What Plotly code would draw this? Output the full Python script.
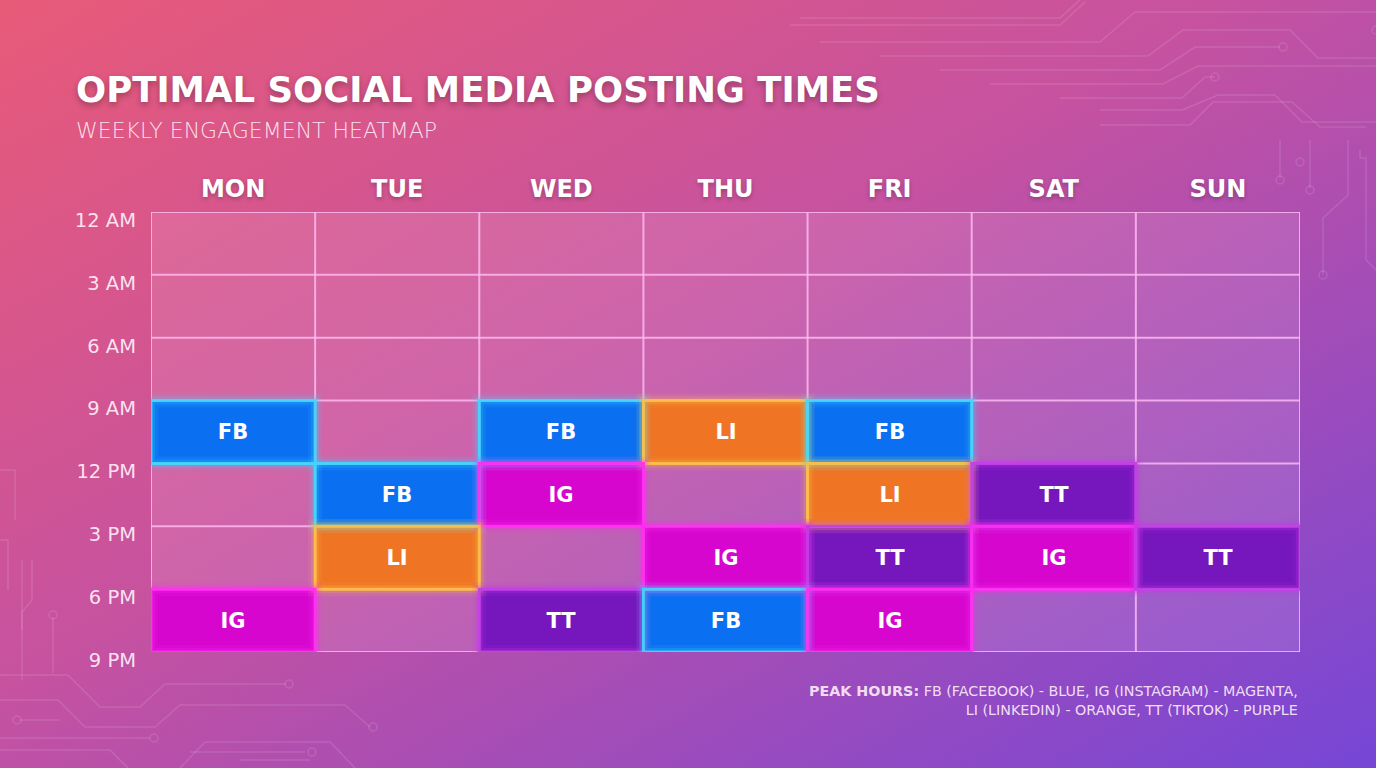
import base64
import plotly.graph_objects as go

# ---------------- data ----------------
days = ["MON", "TUE", "WED", "THU", "FRI", "SAT", "SUN"]
time_labels = ["12 AM", "3 AM", "6 AM", "9 AM", "12 PM", "3 PM", "6 PM", "9 PM"]
hour_edges = [0, 3, 6, 9, 12, 15, 18, 21]
# rows = 3-hour slots (12AM-3AM ... 6PM-9PM), columns = days
schedule = [
    ["", "", "", "", "", "", ""],
    ["", "", "", "", "", "", ""],
    ["", "", "", "", "", "", ""],
    ["FB", "", "FB", "LI", "FB", "", ""],
    ["", "FB", "IG", "", "LI", "TT", ""],
    ["", "LI", "", "IG", "TT", "IG", "TT"],
    ["IG", "", "TT", "FB", "IG", "", ""],
]
platforms = ["", "FB", "IG", "LI", "TT"]
fill_colors = ["rgba(255,225,248,0.13)", "#0a6ff0", "#d606cf", "#ef7424", "#7616bd"]
rim_colors = ["", "#3fd6ff", "#ff2cf2", "#ffbf45", "#c23be6"]

FONT = "DejaVu Sans"
W, H = 1376, 768
ML, MR, MT, MB = 151, 76, 212, 116
PW, PH = W - ML - MR, H - MT - MB

# ---------------- background (gradient + circuit decoration) ----------------
circuit_paths = [
    "M790 25 H1060 L1085 2", "M820 42 H1100 L1135 12 H1376",
    "M880 56 H1148 L1183 30 H1290 L1318 58 H1376",
    "M940 70 H1160 L1195 47 H1280", "M990 84 H1163 L1198 66 H1376",
    "M1060 98 H1182 L1205 77 H1215", "M1100 110 H1182 L1218 95 H1275 L1302 122 H1376",
    "M1100 125 H1190 L1213 102 H1292 L1320 127 H1366",
    "M1280 140 V178", "M1310 140 V188", "M1348 140 V195 L1323 218 V275",
    "M1360 150 V158 H1366 V260 L1376 270",
    "M0 675 H68 L100 707 H140 L165 684 H286",
    "M0 700 H58 L85 727 H155 L180 705 H345 L370 727",
    "M20 720 H60", "M0 738 H150", "M0 750 H110 L128 768", "M190 752 H305",
    "M180 768 L205 742 H330 L355 768", "M240 760 H310",
    "M53 617 V673", "M22 560 V630", "M32 560 V600 L22 612 V680",
    "M0 470 H15 V520", "M0 540 H8 V590",
    "M1080 0 L1060 18 H800",
]
circles = [(1283, 47), (1215, 77), (1376, 30), (1280, 180), (1310, 190), (1323, 275),
           (289, 684), (373, 727), (17, 720), (154, 738), (312, 752), (53, 615), (1300, 162)]
svg_parts = [
    f'<svg xmlns="http://www.w3.org/2000/svg" width="{W}" height="{H}" viewBox="0 0 {W} {H}" preserveAspectRatio="none">',
    '<defs><linearGradient id="g" x1="0" y1="0" x2="1" y2="1">',
    '<stop offset="0" stop-color="#e85a78"/><stop offset="0.45" stop-color="#c652a0"/>',
    '<stop offset="1" stop-color="#7646d6"/></linearGradient></defs>',
    f'<rect width="{W}" height="{H}" fill="url(#g)"/>',
    '<g fill="none" stroke="rgba(255,255,255,0.12)" stroke-width="1.5">',
]
for p in circuit_paths:
    svg_parts.append(f'<path d="{p}"/>')
for cx, cy in circles:
    svg_parts.append(f'<circle cx="{cx}" cy="{cy}" r="4"/>')
svg_parts.append('</g></svg>')
svg = "".join(svg_parts)
bg_src = "data:image/svg+xml;base64," + base64.b64encode(svg.encode()).decode()

# ---------------- heatmap ----------------
z = [[platforms.index(v) for v in row] for row in schedule]
n = len(platforms) - 1
colorscale = [[i / n, c] for i, c in enumerate(fill_colors)]

fig = go.Figure()
fig.add_trace(go.Heatmap(
    x=days, y=hour_edges, z=z, text=schedule, texttemplate="%{text}",
    textfont=dict(family=FONT, size=21, color="white", weight=700),
    colorscale=colorscale, zmin=0, zmax=n, showscale=False, hoverinfo="skip",
))

shapes = []
grid_col = "rgba(255,190,245,0.8)"
for i in range(len(days) + 1):
    shapes.append(dict(type="line", xref="x", yref="y", x0=i - 0.5, x1=i - 0.5,
                       y0=hour_edges[0], y1=hour_edges[-1], line=dict(color=grid_col, width=2)))
for e in hour_edges:
    shapes.append(dict(type="line", xref="x", yref="y", x0=-0.5, x1=len(days) - 0.5,
                       y0=e, y1=e, line=dict(color=grid_col, width=2)))
for r, row in enumerate(schedule):
    for c, v in enumerate(row):
        if not v:
            continue
        k = platforms.index(v)
        for w, op in ((14, 0.10), (8, 0.2), (3, 0.9)):
            shapes.append(dict(type="rect", xref="x", yref="y", x0=c - 0.5, x1=c + 0.5,
                               y0=hour_edges[r], y1=hour_edges[r + 1], opacity=op,
                               line=dict(color=rim_colors[k], width=w)))

fig.update_layout(
    width=W, height=H, margin=dict(l=ML, r=MR, t=MT, b=MB),
    paper_bgcolor="#b452ae", plot_bgcolor="rgba(0,0,0,0)",
    shapes=shapes,
    images=[dict(source=bg_src, xref="paper", yref="paper", x=-ML / PW, y=1 + MT / PH,
                 sizex=W / PW, sizey=H / PH, xanchor="left", yanchor="top",
                 sizing="stretch", layer="below")],
    xaxis=dict(side="top", showgrid=False, zeroline=False, ticks="", ticklabelstandoff=9,
               tickfont=dict(family=FONT, size=24, color="white", weight=700,
                             shadow="0px 2px 4px rgba(0,0,0,0.25)"),
               range=[-0.5, len(days) - 0.5], fixedrange=True),
    yaxis=dict(range=[hour_edges[-1], hour_edges[0]], tickvals=hour_edges, ticktext=time_labels,
               showgrid=False, zeroline=False, ticks="", ticklabelstandoff=14,
               ticklabelshift=-8,
               tickfont=dict(family=FONT, size=19.5, color="rgba(255,240,250,0.92)"),
               fixedrange=True),
    annotations=[
        dict(text="OPTIMAL SOCIAL MEDIA POSTING TIMES", xref="paper", yref="paper",
             x=-(ML - 74) / PW, y=1 + (MT - 90) / PH, xanchor="left", yanchor="middle",
             showarrow=False,
             font=dict(family=FONT, size=35.5, color="white", weight=700,
                       shadow="0px 3px 6px rgba(0,0,0,0.3)")),
        dict(text="WEEKLY ENGAGEMENT HEATMAP", xref="paper", yref="paper",
             x=-(ML - 74) / PW, y=1 + (MT - 130) / PH, xanchor="left", yanchor="middle",
             showarrow=False,
             font=dict(family=FONT, size=22, color="rgba(255,240,250,0.9)", weight=200)),
        dict(text="<b>PEAK HOURS:</b> FB (FACEBOOK) - BLUE, IG (INSTAGRAM) - MAGENTA,<br>"
                  "LI (LINKEDIN) - ORANGE, TT (TIKTOK) - PURPLE",
             xref="paper", yref="paper", x=1, y=-(700 - MT - PH) / PH,
             xanchor="right", yanchor="middle", align="right", showarrow=False,
             font=dict(family=FONT, size=14.3, color="rgba(255,240,250,0.9)")),
    ],
)

fig.write_html("out.html")
